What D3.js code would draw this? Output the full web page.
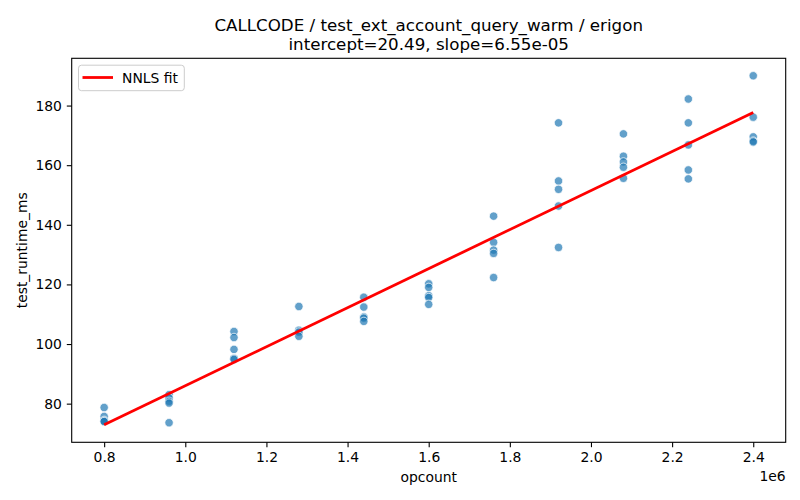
<!DOCTYPE html>
<html>
<head>
<meta charset="utf-8">
<script src="https://cdn.jsdelivr.net/npm/d3@7"></script>
<style>
  body { margin: 0; background: #fff; }
  text { font-family: "DejaVu Sans", sans-serif; fill: #000; }
</style>
</head>
<body>
<div id="chart"></div>
<script>
//data
var opcounts = [800000, 960000, 1120000, 1280000, 1440000, 1600000, 1760000, 1920000, 2080000, 2240000, 2400000];
var runtimes = [
    [78.7, 75.7, 74.4, 74.1, 74.0],
    [83.0, 81.9, 80.8, 80.2, 73.6],
    [104.2, 102.2, 98.2, 95.2, 94.9],
    [112.6, 104.6, 104.0, 102.6],
    [115.7, 112.4, 109.1, 108.7, 107.6],
    [120.2, 119.0, 116.2, 115.6, 113.3],
    [142.9, 134.1, 131.5, 130.4, 122.3],
    [174.2, 154.7, 151.9, 146.3, 132.4],
    [170.5, 163.0, 161.1, 159.3, 155.6],
    [182.2, 174.2, 166.8, 158.4, 155.4],
    [190.0, 176.1, 169.5, 168.1, 167.8]
];
var intercept = 20.49,
    slope = 6.55e-05;
var xTicks = [0.8, 1.0, 1.2, 1.4, 1.6, 1.8, 2.0, 2.2, 2.4];
var yTicks = [80, 100, 120, 140, 160, 180];

//setup
var width = 800,
    height = 500,
    plotLeft = 71.7,
    plotRight = 785.7,
    plotTop = 58.3,
    plotBottom = 442.3;

var points = [];
opcounts.forEach(function (x, i) {
    runtimes[i].forEach(function (y) {
        points.push({ x: x, y: y });
    });
});

var fitLine = [opcounts[0], opcounts[opcounts.length - 1]].map(function (x) {
    return { x: x, y: intercept + slope * x };
});

// matplotlib style 5% margins
function pad(ext) {
    var d = (ext[1] - ext[0]) * 0.05;
    return [ext[0] - d, ext[1] + d];
}
var allY = points.map(function (d) { return d.y; }).concat(fitLine.map(function (d) { return d.y; }));

var xScale = d3.scaleLinear()
    .domain(pad(d3.extent(opcounts)))
    .range([plotLeft, plotRight]);

var yScale = d3.scaleLinear()
    .domain(pad(d3.extent(allY)))
    .range([plotBottom, plotTop]);

var svg = d3.select("#chart").append("svg")
    .attr("width", width)
    .attr("height", height);

// end of setup

//draw points
svg.append("g").selectAll("circle").data(points)
    .enter().append("circle")
    .attr("cx", function (d) { return xScale(d.x); })
    .attr("cy", function (d) { return yScale(d.y); })
    .attr("r", 4.2)
    .style("fill", "#1f77b4")
    .style("fill-opacity", 0.7)
    .style("stroke", "#fff")
    .style("stroke-opacity", 0.7)
    .style("stroke-width", 1);

//fit line
svg.append("path")
    .datum(fitLine)
    .attr("d", d3.line()
        .x(function (d) { return xScale(d.x); })
        .y(function (d) { return yScale(d.y); }))
    .style("fill", "none")
    .style("stroke", "red")
    .style("stroke-width", 2.8);

//axes
var xAxis = svg.append("g")
    .attr("transform", "translate(0," + plotBottom + ")")
    .call(d3.axisBottom(xScale)
        .tickValues(xTicks.map(function (t) { return t * 1e6; }))
        .tickFormat(function (t) { return d3.format(".1f")(t / 1e6); })
        .tickSizeInner(4.9)
        .tickSizeOuter(0)
        .tickPadding(4.9));

var yAxis = svg.append("g")
    .attr("transform", "translate(" + plotLeft + ",0)")
    .call(d3.axisLeft(yScale)
        .tickValues(yTicks)
        .tickSizeInner(4.9)
        .tickSizeOuter(0)
        .tickPadding(4.9));

[xAxis, yAxis].forEach(function (a) {
    a.select(".domain").remove();
    a.selectAll(".tick line").attr("stroke", "#000").attr("stroke-width", 1.1);
    a.selectAll(".tick text")
        .style("font-family", "DejaVu Sans")
        .style("font-size", "13.9px");
});

//frame
svg.append("rect")
    .attr("x", plotLeft)
    .attr("y", plotTop)
    .attr("width", plotRight - plotLeft)
    .attr("height", plotBottom - plotTop)
    .style("fill", "none")
    .style("stroke", "#000")
    .style("stroke-width", 1.1);

//labels
svg.append("text")
    .attr("x", (plotLeft + plotRight) / 2)
    .attr("y", 482)
    .attr("text-anchor", "middle")
    .style("font-size", "13.9px")
    .text("opcount");

svg.append("text")
    .attr("x", plotRight)
    .attr("y", 481)
    .attr("text-anchor", "end")
    .style("font-size", "13.9px")
    .text("1e6");

svg.append("text")
    .attr("transform", "translate(27," + (plotTop + plotBottom) / 2 + ") rotate(-90)")
    .attr("text-anchor", "middle")
    .style("font-size", "13.9px")
    .text("test_runtime_ms");

svg.append("text")
    .attr("x", (plotLeft + plotRight) / 2)
    .attr("y", 30.5)
    .attr("text-anchor", "middle")
    .style("font-size", "16.7px")
    .text("CALLCODE / test_ext_account_query_warm / erigon");

svg.append("text")
    .attr("x", (plotLeft + plotRight) / 2)
    .attr("y", 50)
    .attr("text-anchor", "middle")
    .style("font-size", "16.7px")
    .text("intercept=20.49, slope=6.55e-05");

//legend
var legend = svg.append("g");
legend.append("rect")
    .attr("x", 78.5)
    .attr("y", 65.2)
    .attr("width", 105.8)
    .attr("height", 25.5)
    .attr("rx", 3)
    .style("fill", "#fff")
    .style("fill-opacity", 0.8)
    .style("stroke", "#ccc")
    .style("stroke-width", 1);
legend.append("line")
    .attr("x1", 82.5)
    .attr("x2", 113)
    .attr("y1", 77.5)
    .attr("y2", 77.5)
    .style("stroke", "red")
    .style("stroke-width", 2.8);
legend.append("text")
    .attr("x", 122)
    .attr("y", 82.5)
    .style("font-size", "13.9px")
    .text("NNLS fit");
</script>
</body>
</html>
